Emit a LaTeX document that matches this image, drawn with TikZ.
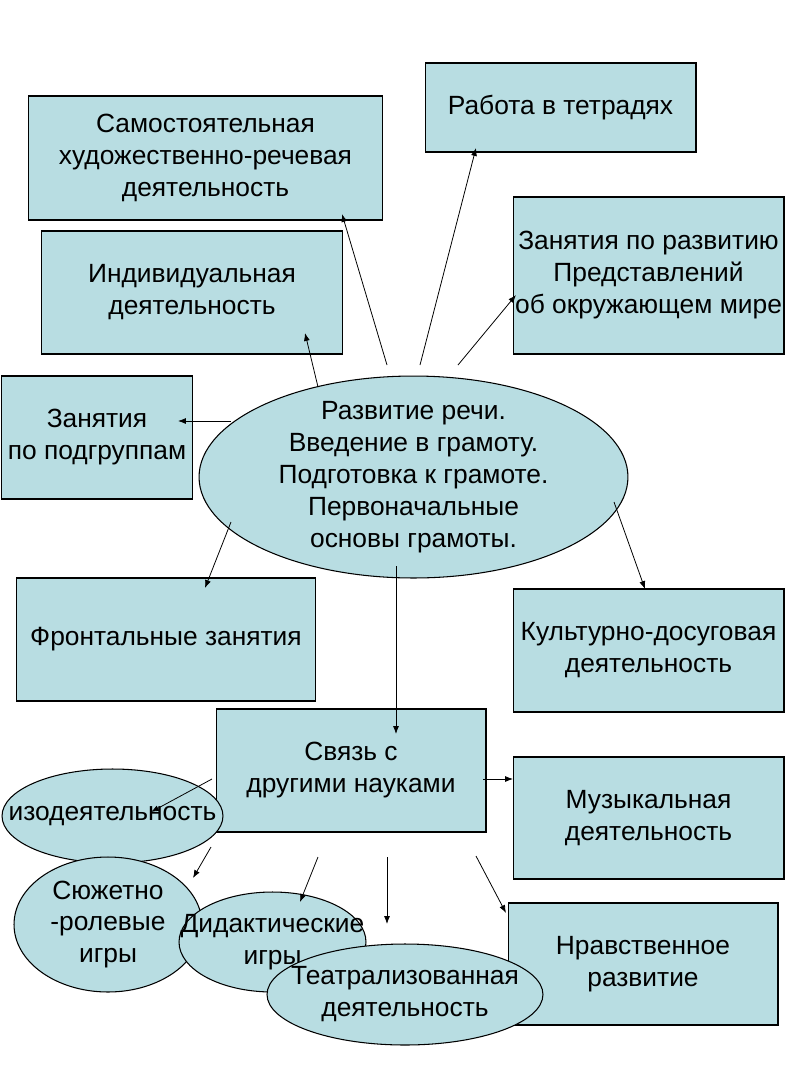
\documentclass[tikz,border=0pt]{standalone}
\usepackage{fontspec}
\setmainfont{Liberation Sans}
\usepackage{tikz}
\usetikzlibrary{shapes.geometric}
\usetikzlibrary{arrows.meta}
\definecolor{lightteal}{RGB}{184,221,226}
\newcommand{\boxfont}{\fontsize{15}{18.2}\selectfont}
\tikzset{
    common/.style={draw, fill=lightteal, line width=0.6pt, font=\boxfont, align=center, inner sep=1pt},
    block/.style={common, rectangle},
    oval/.style={common, ellipse, inner sep=0pt},
    txt/.style={font=\boxfont, align=center},
    link/.style={-{Latex[length=4.5pt,width=3.4pt]}, line width=0.45pt}
}
\begin{document}
\begin{tikzpicture}[x=0.02cm, y=-0.02cm]
    \useasboundingbox (0,0) rectangle (800,1066);

    % boxes round the centre
    \node[block, minimum width=7.1cm, minimum height=2.48cm] (samost) at (205.5,158) {Самостоятельная\\художественно-речевая\\деятельность};
    \node[block, minimum width=5.42cm, minimum height=1.78cm] (tetradi) at (560.5,107.5) {Работа в тетрадях};
    \node[block, minimum width=6.04cm, minimum height=2.46cm] (individ) at (192,292.5) {Индивидуальная\\деятельность};
    \node[block, minimum width=5.42cm, minimum height=3.14cm, inner sep=0pt] (mir) at (648.5,275.5) {Занятия по развитию\\Представлений\\об окружающем мире};
    \node[block, minimum width=3.82cm, minimum height=2.46cm] (podgr) at (97,437.5) {Занятия\\по подгруппам};
    \node[oval, minimum width=8.58cm, minimum height=4.04cm,
          label={[txt]center:{Развитие речи.\\Введение в грамоту.\\Подготовка к грамоте.\\Первоначальные\\основы грамоты.}}] (razv) at (413.5,477) {};
    \node[block, minimum width=6.0cm, minimum height=2.46cm] (front) at (166,639.5) {Фронтальные занятия};
    \node[block, minimum width=5.42cm, minimum height=2.46cm] (kult) at (648.5,650.5) {Культурно-досуговая\\деятельность};

    % second level
    \node[block, minimum width=5.4cm, minimum height=2.46cm] (svyaz) at (351,770.5) {Связь с\\другими науками};
    \node[block, minimum width=5.42cm, minimum height=2.44cm] (muz) at (648.5,818) {Музыкальная\\деятельность};
    \node[block, minimum width=5.4cm, minimum height=2.44cm] (nravst) at (643,964) {Нравственное\\развитие};
    \node[oval, minimum width=4.42cm, minimum height=1.88cm,
          label={[txt]center:изодеятельность}] (izo) at (112.5,816) {};
    \node[oval, minimum width=3.76cm, minimum height=2.7cm,
          label={[txt]center:{Сюжетно\\-ролевые\\игры}}] (syuzhet) at (108,924.5) {};
    \node[oval, minimum width=3.74cm, minimum height=2.0cm,
          label={[txt]center:{Дидактические\\игры}}] (didakt) at (272.5,942) {};
    \node[oval, minimum width=5.52cm, minimum height=2.02cm,
          label={[txt]center:{Театрализованная\\деятельность}}] (teatr) at (405,994.5) {};

    % free ends of the arrows
    \coordinate (s-samost) at (387,365);   \coordinate (e-samost) at (342,214);
    \coordinate (s-tetradi) at (420,365);  \coordinate (e-tetradi) at (476,148);
    \coordinate (s-mir) at (458,365);      \coordinate (e-mir) at (516,295);
    \coordinate (s-individ) at (318,387);  \coordinate (e-individ) at (305,333);
    \coordinate (s-podgr) at (231,421);    \coordinate (e-podgr) at (178,421);
    \coordinate (s-front) at (231,522);    \coordinate (e-front) at (205,588);
    \coordinate (s-kult) at (614,502);     \coordinate (e-kult) at (645,589);
    \coordinate (s-svyaz) at (396,566);    \coordinate (e-svyaz) at (396,734);
    \coordinate (s-muz) at (483,779);      \coordinate (e-muz) at (513,779);
    \coordinate (s-izo) at (212,779);      \coordinate (e-izo) at (151,812);
    \coordinate (s-syuzhet) at (211,847);  \coordinate (e-syuzhet) at (193,878);
    \coordinate (s-didakt) at (318,857);   \coordinate (e-didakt) at (300,902);
    \coordinate (s-down) at (387,857);     \coordinate (e-down) at (387,924);
    \coordinate (s-nravst) at (476,856);   \coordinate (e-nravst) at (506,913);

    \draw[link] (s-samost) -- (e-samost);
    \draw[link] (s-tetradi) -- (e-tetradi);
    \draw[link] (s-mir) -- (e-mir);
    \draw[link] (s-individ) -- (e-individ);
    \draw[link] (s-podgr) -- (e-podgr);
    \draw[link] (s-front) -- (e-front);
    \draw[link] (s-kult) -- (e-kult);
    \draw[link] (s-svyaz) -- (e-svyaz);
    \draw[link] (s-muz) -- (e-muz);
    \draw[link] (s-izo) -- (e-izo);
    \draw[link] (s-syuzhet) -- (e-syuzhet);
    \draw[link] (s-didakt) -- (e-didakt);
    \draw[link] (s-down) -- (e-down);
    \draw[link] (s-nravst) -- (e-nravst);
\end{tikzpicture}
\end{document}
